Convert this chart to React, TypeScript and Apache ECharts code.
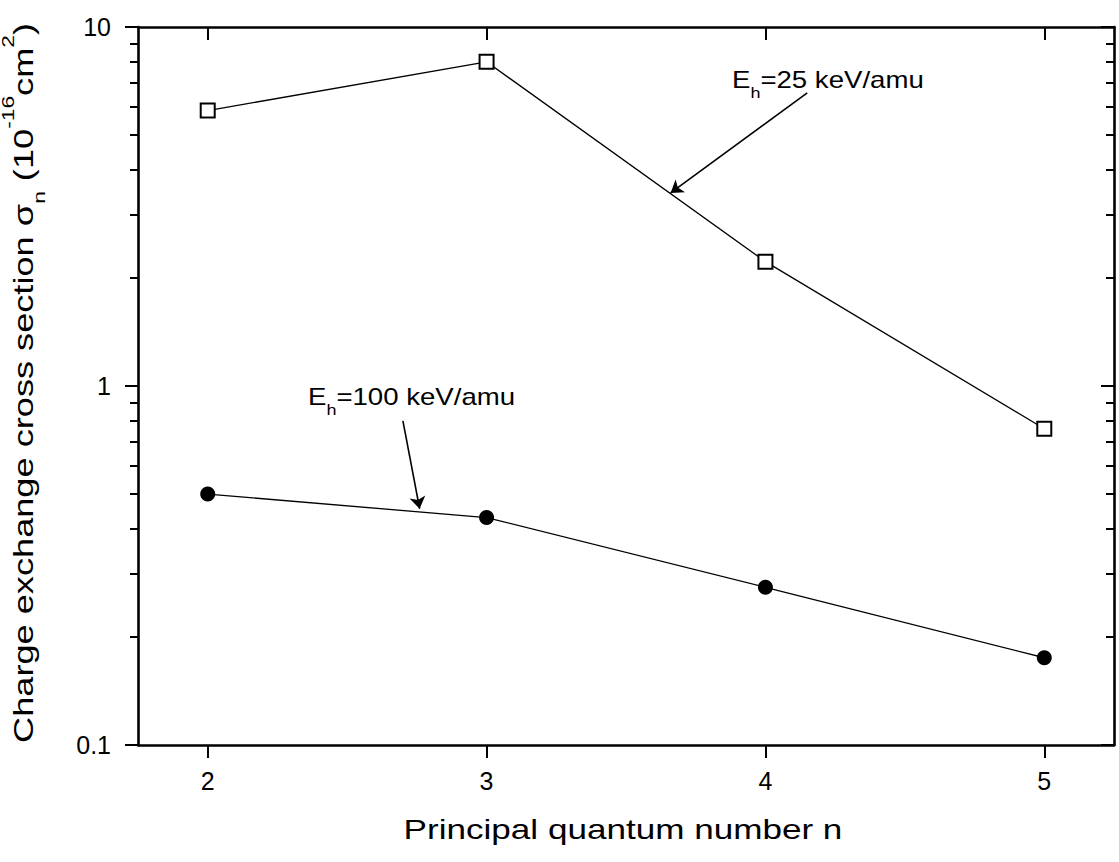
import React, { useEffect, useRef } from "react";
import * as echarts from "echarts";

// Principal quantum number n
const nValues = [2, 3, 4, 5];
// Charge exchange cross sections (10^-16 cm^2)
const sigma25keV = [5.85, 8.0, 2.22, 0.76];
const sigma100keV = [0.5, 0.43, 0.275, 0.175];

const xTicks = [2, 3, 4, 5];
const yMajorTicks = [0.1, 1, 10];
const yMinorTicks = [0.2, 0.3, 0.4, 0.5, 0.6, 0.7, 0.8, 0.9, 2, 3, 4, 5, 6, 7, 8, 9];

// Annotation arrows, [from, to] in data coordinates
const arrow25keV = [[4.15, 6.55], [3.66, 3.45]];
const arrow100keV = [[2.7, 0.8], [2.76, 0.455]];

const FONT = "'Liberation Sans', Arial, Helvetica, sans-serif";
const STRETCH = 1.3;

const xRange = { min: 1.75, max: 5.25 };

function logAxis(position: "left" | "right", ticks: number[], tickLen: number, inside: boolean, showLine: boolean, showLabel: boolean) {
  return {
    type: "log",
    logBase: 10,
    min: 0.1,
    max: 10,
    position,
    axisLine: { show: showLine, onZero: false, lineStyle: { color: "#000", width: 2.6 } },
    axisTick: {
      show: true,
      inside,
      length: tickLen,
      customValues: ticks,
      lineStyle: { color: "#000", width: 2 },
    },
    axisLabel: {
      show: showLabel,
      margin: 27,
      color: "#000",
      fontSize: 25,
      fontFamily: FONT,
      customValues: ticks,
      formatter: (v: number) => String(v),
    },
    splitLine: { show: false },
    minorTick: { show: false },
  };
}

function valueXAxis(position: "top" | "bottom", inside: boolean, showLabel: boolean) {
  return {
    type: "value",
    min: xRange.min,
    max: xRange.max,
    position,
    axisLine: { show: true, onZero: false, lineStyle: { color: "#000", width: 2.6 } },
    axisTick: {
      show: true,
      inside,
      length: 13,
      customValues: xTicks,
      lineStyle: { color: "#000", width: 2 },
    },
    axisLabel: {
      show: showLabel,
      margin: 23,
      color: "#000",
      fontSize: 25,
      fontFamily: FONT,
      customValues: xTicks,
      formatter: (v: number) => String(v),
    },
    splitLine: { show: false },
  };
}

function arrowMarkLine(arrow: number[][]) {
  return {
    silent: true,
    symbol: ["none", "arrow"],
    symbolSize: 12,
    label: { show: false },
    emphasis: { disabled: true },
    lineStyle: { color: "#000", width: 1.6, type: "solid" },
    itemStyle: { color: "#000" },
    data: [
      [
        { coord: arrow[0], symbol: "none" },
        { coord: arrow[1], symbol: "arrow", symbolSize: 12 },
      ],
    ],
  };
}

const annotationRich = {
  m: { fontSize: 23, lineHeight: 42, fontFamily: FONT, fill: "#000" },
  s: { fontSize: 15, lineHeight: 15, verticalAlign: "bottom", fontFamily: FONT, fill: "#000" },
};

const yTitleRich = {
  m: { fontSize: 27, lineHeight: 48, fontFamily: FONT, fill: "#000" },
  s: { fontSize: 17, lineHeight: 15, verticalAlign: "bottom", fontFamily: FONT, fill: "#000" },
  p: { fontSize: 17, lineHeight: 31, verticalAlign: "top", fontFamily: FONT, fill: "#000" },
};

export default function App() {
  const ref = useRef<HTMLDivElement>(null);

  useEffect(() => {
    if (!ref.current) return;
    const chart = echarts.init(ref.current, undefined, { renderer: "svg" });
    chart.setOption({
      animation: false,
      backgroundColor: "#fff",
      grid: {
        left: 138,
        right: 5,
        top: 27,
        bottom: 117,
        containLabel: false,
        outerBoundsMode: "none",
      },
      xAxis: [valueXAxis("bottom", false, true), valueXAxis("top", true, false)],
      yAxis: [
        logAxis("left", yMajorTicks, 13, false, true, true),
        logAxis("left", yMinorTicks, 8, false, false, false),
        logAxis("right", yMajorTicks, 13, true, true, false),
        logAxis("right", yMinorTicks, 8, true, false, false),
      ],
      series: [
        {
          name: "Eh=25 keV/amu",
          type: "line",
          xAxisIndex: 0,
          yAxisIndex: 0,
          data: nValues.map((n, i) => [n, sigma25keV[i]]),
          symbol: "emptyRect",
          symbolSize: 14,
          itemStyle: { color: "#000", borderColor: "#000", borderWidth: 1.3 },
          lineStyle: { color: "#000", width: 1.3 },
          emphasis: { disabled: true },
          markLine: arrowMarkLine(arrow25keV),
        },
        {
          name: "Eh=100 keV/amu",
          type: "line",
          xAxisIndex: 0,
          yAxisIndex: 0,
          data: nValues.map((n, i) => [n, sigma100keV[i]]),
          symbol: "circle",
          symbolSize: 15,
          itemStyle: { color: "#000" },
          lineStyle: { color: "#000", width: 1.3 },
          emphasis: { disabled: true },
          markLine: arrowMarkLine(arrow100keV),
        },
      ],
      graphic: [
        {
          type: "text",
          x: 732,
          y: 80,
          scaleX: STRETCH - 0.1,
          style: {
            text: "{m|E}{s|h}{m|=25 keV/amu}",
            rich: annotationRich,
            fill: "#000",
            align: "left",
            verticalAlign: "middle",
            textAlign: "left",
            textVerticalAlign: "middle",
          },
        },
        {
          type: "text",
          x: 308,
          y: 397,
          scaleX: STRETCH - 0.1,
          style: {
            text: "{m|E}{s|h}{m|=100 keV/amu}",
            rich: annotationRich,
            fill: "#000",
            align: "left",
            verticalAlign: "middle",
            textAlign: "left",
            textVerticalAlign: "middle",
          },
        },
        {
          type: "text",
          x: 623,
          y: 830,
          scaleX: STRETCH,
          style: {
            text: "Principal quantum number n",
            fontSize: 27,
            fontFamily: FONT,
            fill: "#000",
            align: "center",
            verticalAlign: "middle",
            textAlign: "center",
            textVerticalAlign: "middle",
          },
        },
        {
          type: "text",
          x: 24,
          y: 383,
          rotation: Math.PI / 2,
          scaleX: 1.34,
          style: {
            text: "{m|Charge exchange cross section σ}{s|n}{m| (10}{p|-16}{m|cm}{p|2}{m|)}",
            rich: yTitleRich,
            fill: "#000",
            align: "center",
            verticalAlign: "middle",
            textAlign: "center",
            textVerticalAlign: "middle",
          },
        },
      ],
    });
    return () => chart.dispose();
  }, []);

  return (
    <div
      ref={ref}
      style={{ position: "absolute", left: 0, top: 0, width: 1119, height: 862, background: "#fff" }}
    />
  );
}
